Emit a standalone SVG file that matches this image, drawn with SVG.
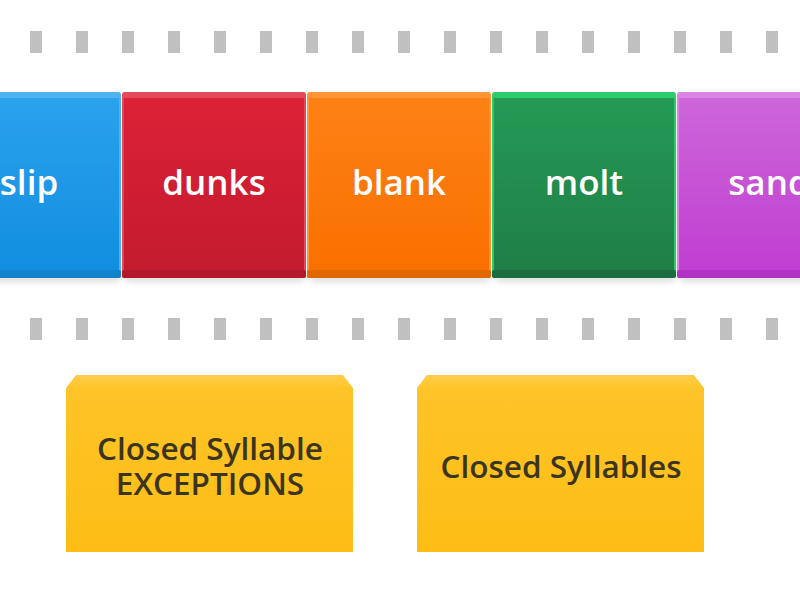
<svg xmlns="http://www.w3.org/2000/svg" width="800" height="600" viewBox="0 0 800 600">
<defs>
<style>
.dash{fill:#c0c0c0}
.tl{font-family:"Open Sans","Noto Sans","Liberation Sans",sans-serif;font-weight:600;font-size:35px;fill:#ffffff;text-anchor:middle}
.yl{font-family:"Open Sans","Noto Sans","Liberation Sans",sans-serif;font-weight:600;font-size:31.5px;fill:#3b3520;text-anchor:middle}
</style>
<filter id="sh" x="-10%" y="-10%" width="120%" height="130%">
<feGaussianBlur stdDeviation="3"/>
</filter>
<linearGradient id="gB" x1="0" y1="0" x2="0" y2="1"><stop offset="0" stop-color="#2aa2ec"/><stop offset="1" stop-color="#128ee0"/></linearGradient>
<linearGradient id="gR" x1="0" y1="0" x2="0" y2="1"><stop offset="0" stop-color="#dc2136"/><stop offset="1" stop-color="#c41b2f"/></linearGradient>
<linearGradient id="gO" x1="0" y1="0" x2="0" y2="1"><stop offset="0" stop-color="#fd8115"/><stop offset="1" stop-color="#f97000"/></linearGradient>
<linearGradient id="gG" x1="0" y1="0" x2="0" y2="1"><stop offset="0" stop-color="#249a55"/><stop offset="1" stop-color="#1f7f47"/></linearGradient>
<linearGradient id="gP" x1="0" y1="0" x2="0" y2="1"><stop offset="0" stop-color="#cd66d9"/><stop offset="1" stop-color="#c03fd1"/></linearGradient>
<linearGradient id="gY" x1="0" y1="0" x2="0" y2="1"><stop offset="0" stop-color="#ffcd4c"/><stop offset="0.08" stop-color="#fec428"/><stop offset="1" stop-color="#fdbd14"/></linearGradient>
</defs>
<rect width="800" height="600" fill="#ffffff"/>

<g id="dashes-top">
<rect class="dash" x="30" y="31" width="12" height="22"/><rect class="dash" x="76" y="31" width="12" height="22"/><rect class="dash" x="122" y="31" width="12" height="22"/><rect class="dash" x="168" y="31" width="12" height="22"/><rect class="dash" x="214" y="31" width="12" height="22"/><rect class="dash" x="260" y="31" width="12" height="22"/><rect class="dash" x="306" y="31" width="12" height="22"/><rect class="dash" x="352" y="31" width="12" height="22"/><rect class="dash" x="398" y="31" width="12" height="22"/><rect class="dash" x="444" y="31" width="12" height="22"/><rect class="dash" x="490" y="31" width="12" height="22"/><rect class="dash" x="536" y="31" width="12" height="22"/><rect class="dash" x="582" y="31" width="12" height="22"/><rect class="dash" x="628" y="31" width="12" height="22"/><rect class="dash" x="674" y="31" width="12" height="22"/><rect class="dash" x="720" y="31" width="12" height="22"/><rect class="dash" x="766" y="31" width="12" height="22"/>
</g>
<g id="dashes-bottom">
<rect class="dash" x="30" y="318" width="12" height="22"/><rect class="dash" x="76" y="318" width="12" height="22"/><rect class="dash" x="122" y="318" width="12" height="22"/><rect class="dash" x="168" y="318" width="12" height="22"/><rect class="dash" x="214" y="318" width="12" height="22"/><rect class="dash" x="260" y="318" width="12" height="22"/><rect class="dash" x="306" y="318" width="12" height="22"/><rect class="dash" x="352" y="318" width="12" height="22"/><rect class="dash" x="398" y="318" width="12" height="22"/><rect class="dash" x="444" y="318" width="12" height="22"/><rect class="dash" x="490" y="318" width="12" height="22"/><rect class="dash" x="536" y="318" width="12" height="22"/><rect class="dash" x="582" y="318" width="12" height="22"/><rect class="dash" x="628" y="318" width="12" height="22"/><rect class="dash" x="674" y="318" width="12" height="22"/><rect class="dash" x="720" y="318" width="12" height="22"/><rect class="dash" x="766" y="318" width="12" height="22"/>
</g>

<g id="tile-slip">
<rect x="-60" y="96" width="180" height="186" rx="3" fill="#000" opacity="0.12" filter="url(#sh)"/>
<rect x="-63" y="92" width="184" height="186" rx="3" fill="#50b2f0"/>
<rect x="-61" y="98" width="180" height="172" fill="url(#gB)"/>
<rect x="-63" y="270" width="184" height="8" rx="2" fill="#1282cc"/>
<text class="tl" x="29" y="195">slip</text>
</g>
<g id="tile-dunks">
<rect x="125" y="96" width="180" height="186" rx="3" fill="#000" opacity="0.12" filter="url(#sh)"/>
<rect x="122" y="92" width="184" height="186" rx="3" fill="#e2495a"/>
<rect x="124" y="98" width="180" height="172" fill="url(#gR)"/>
<rect x="122" y="270" width="184" height="8" rx="2" fill="#b3192b"/>
<text class="tl" x="214" y="195">dunks</text>
</g>
<g id="tile-blank">
<rect x="310" y="96" width="180" height="186" rx="3" fill="#000" opacity="0.12" filter="url(#sh)"/>
<rect x="307" y="92" width="184" height="186" rx="3" fill="#ff9536"/>
<rect x="309" y="98" width="180" height="172" fill="url(#gO)"/>
<rect x="307" y="270" width="184" height="8" rx="2" fill="#e06800"/>
<text class="tl" x="399" y="195">blank</text>
</g>
<g id="tile-molt">
<rect x="495" y="96" width="180" height="186" rx="3" fill="#000" opacity="0.12" filter="url(#sh)"/>
<rect x="492" y="92" width="184" height="186" rx="3" fill="#2ecc6c"/>
<rect x="494" y="98" width="180" height="172" fill="url(#gG)"/>
<rect x="492" y="270" width="184" height="8" rx="2" fill="#1b6c3e"/>
<text class="tl" x="584" y="195">molt</text>
</g>
<g id="tile-sand">
<rect x="680" y="96" width="180" height="186" rx="3" fill="#000" opacity="0.12" filter="url(#sh)"/>
<rect x="677" y="92" width="184" height="186" rx="3" fill="#da85e3"/>
<rect x="679" y="98" width="180" height="172" fill="url(#gP)"/>
<rect x="677" y="270" width="184" height="8" rx="2" fill="#b232c6"/>
<text class="tl" x="769" y="195">sand</text>
</g>

<g id="box-exceptions">
<path d="M76,375 H343 L353,388 V552 H66 V388 Z" fill="url(#gY)"/>
<text class="yl" x="210" y="460">Closed Syllable</text>
<text class="yl" x="210" y="495">EXCEPTIONS</text>
</g>
<g id="box-closed">
<path d="M427,375 H694 L704,388 V552 H417 V388 Z" fill="url(#gY)"/>
<text class="yl" x="561" y="478">Closed Syllables</text>
</g>
</svg>
